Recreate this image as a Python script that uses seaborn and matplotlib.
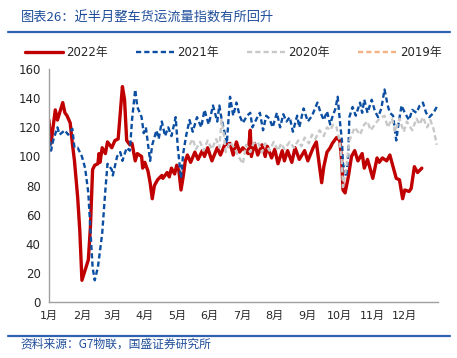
import matplotlib
matplotlib.use("Agg")
import matplotlib.pyplot as plt
import seaborn as sns
import pandas as pd
from matplotlib.lines import Line2D

sns.set_style("white")
plt.rcParams['font.family'] = ['DejaVu Sans', 'Noto Sans CJK SC']
plt.rcParams['axes.unicode_minus'] = False

title = "图表26：近半月整车货运流量指数有所回升"
source = "资料来源：G7物联，国盛证券研究所"
month_labels = ["1月", "2月", "3月", "4月", "5月", "6月", "7月", "8月", "9月", "10月", "11月", "12月"]
month_days = [0, 31, 59, 90, 120, 151, 181, 212, 243, 273, 304, 334]
y_ticks = [0, 20, 40, 60, 80, 100, 120, 140, 160]

days_2022 = [0, 2, 6, 8, 13, 15, 17, 20, 22, 24, 27, 29, 31, 34, 37, 39, 41, 43, 46, 47, 48, 50, 53, 55,
             59, 62, 65, 67, 69, 71, 73, 76, 78, 81, 83, 87, 88, 90, 93, 95, 97, 99, 102, 106, 107, 111,
             113, 115, 118, 120, 122, 124, 126, 128, 130, 133, 137, 140, 144, 146, 149, 153, 158, 161,
             165, 170, 173, 176, 179, 182, 187, 189, 190, 193, 196, 200, 203, 205, 209, 212, 215, 219,
             221, 224, 228, 231, 235, 240, 243, 248, 251, 254, 256, 258, 261, 264, 266, 270, 273, 275,
             276, 278, 281, 284, 287, 290, 294, 296, 299, 301, 304, 308, 310, 313, 317, 320, 323, 326,
             329, 332, 334, 338, 340, 343, 346, 350]
vals_2022 = [125, 109, 132, 125, 137, 130, 128, 123, 109, 97, 72, 49, 15, 22, 29, 52, 91, 94, 95, 102, 96,
             106, 102, 110, 106, 111, 112, 130, 148, 139, 111, 108, 109, 97, 102, 100, 92, 96, 90, 82, 71,
             80, 84, 87, 85, 89, 86, 92, 88, 94, 90, 77, 86, 97, 101, 96, 103, 98, 104, 100, 106, 97, 106,
             101, 108, 109, 101, 110, 103, 106, 102, 118, 100, 109, 101, 108, 100, 107, 99, 105, 95, 104,
             97, 104, 96, 106, 98, 104, 97, 106, 110, 93, 82, 93, 103, 106, 109, 113, 111, 95, 77, 75, 86,
             100, 104, 97, 102, 92, 98, 93, 85, 99, 96, 99, 97, 101, 93, 85, 84, 71, 77, 76, 78, 93, 89, 92]

days_2021 = [0, 2, 4, 8, 10, 15, 18, 22, 24, 27, 31, 34, 37, 39, 41, 43, 46, 50, 53, 55, 59, 60, 64, 67,
             69, 73, 76, 78, 81, 83, 87, 89, 91, 95, 97, 101, 103, 106, 109, 112, 115, 119, 121, 124, 126,
             129, 132, 135, 139, 143, 146, 150, 154, 158, 160, 162, 165, 167, 170, 173, 176, 179, 182, 186,
             189, 191, 195, 198, 201, 204, 207, 210, 214, 217, 220, 223, 226, 229, 233, 235, 239, 243, 247,
             252, 255, 258, 261, 264, 266, 269, 271, 273, 275, 276, 279, 281, 282, 285, 288, 292, 294, 296,
             299, 303, 306, 309, 312, 315, 318, 320, 323, 326, 328, 331, 334, 338, 341, 345, 348, 351, 354,
             357, 361, 364]
vals_2021 = [116, 104, 111, 120, 115, 118, 115, 119, 106, 106, 100, 92, 75, 49, 24, 15, 24, 47, 77, 95,
             91, 87, 100, 103, 97, 106, 104, 125, 146, 134, 127, 116, 120, 97, 108, 118, 112, 124, 114,
             120, 114, 127, 106, 85, 102, 115, 125, 117, 127, 120, 132, 122, 135, 124, 135, 126, 116, 109,
             141, 128, 137, 128, 123, 128, 130, 120, 126, 130, 118, 128, 126, 120, 130, 120, 129, 124, 127,
             117, 128, 120, 133, 124, 128, 137, 130, 125, 131, 122, 127, 133, 141, 125, 111, 95, 86, 102,
             127, 134, 128, 137, 130, 139, 130, 139, 131, 127, 133, 146, 135, 130, 128, 111, 122, 135, 130,
             125, 132, 130, 135, 137, 130, 127, 130, 134]

days_2020 = [132, 135, 138, 142, 145, 149, 153, 157, 160, 162, 164, 166, 170, 174, 178, 182, 185, 189,
             192, 196, 200, 203, 207, 211, 215, 218, 221, 226, 230, 234, 237, 240, 244, 247, 250, 254,
             258, 261, 264, 267, 270, 273, 275, 276, 279, 282, 287, 292, 296, 299, 302, 306, 310, 315,
             318, 322, 325, 329, 333, 336, 341, 345, 348, 351, 355, 358, 361, 364]
vals_2020 = [108, 112, 105, 110, 104, 111, 105, 112, 106, 125, 116, 103, 110, 106, 100, 95, 108, 103,
             109, 110, 103, 109, 104, 110, 104, 109, 105, 110, 106, 111, 107, 113, 109, 115, 112, 118,
             114, 120, 118, 122, 120, 110, 95, 79, 92, 111, 120, 115, 122, 124, 118, 122, 126, 128, 120,
             126, 117, 126, 117, 124, 118, 126, 122, 127, 120, 125, 119, 108]

days_2019 = []
vals_2019 = []

fig = plt.figure(figsize=(4.57, 3.58), dpi=100)
ax = fig.add_axes([0.107, 0.156, 0.851, 0.651])

red = "#C00000"
blue = "#0B4EA2"
gray = "#C8C8C8"
orange = "#F4B183"

sns.lineplot(x=days_2022, y=vals_2022, ax=ax, color=red, linewidth=2.4, label="2022年")
sns.lineplot(x=days_2021, y=vals_2021, ax=ax, color=blue, linewidth=1.7, linestyle=(0, (2.2, 1.3)),
             label="2021年")
sns.lineplot(x=days_2020, y=vals_2020, ax=ax, color=gray, linewidth=1.7, linestyle=(0, (2.2, 1.3)),
             label="2020年")
ax.plot(days_2019, vals_2019, color=orange, linewidth=1.7, linestyle=(0, (2.2, 1.3)), label="2019年")

ax.set_xlim(0, 365)
ax.set_ylim(0, 160)
ax.set_xticks(month_days)
ax.set_xticklabels(month_labels, fontsize=8)
ax.set_yticks(y_ticks)
ax.set_yticklabels([str(v) for v in y_ticks], fontsize=8.5)
ax.tick_params(axis='x', length=0, pad=6)
ax.tick_params(axis='y', length=3, color="#A0A0A0", direction='out', pad=3)
for s in ["top", "right"]:
    ax.spines[s].set_visible(False)
for s in ["left", "bottom"]:
    ax.spines[s].set_color("#A0A0A0")
    ax.spines[s].set_linewidth(1.0)
ax.set_xlabel("")
ax.set_ylabel("")

handles, labels = ax.get_legend_handles_labels()
ax.legend_.remove() if ax.legend_ else None
fig.legend(handles, labels, loc="center", bbox_to_anchor=(0.51, 0.852), ncol=4, frameon=False,
           fontsize=8.5, handlelength=3.2, columnspacing=2.4, handletextpad=0.3)

title_color = "#1F4E9A"
fig.text(0.045, 0.95, title, fontsize=9.5, color=title_color, ha="left", va="center",
         family=['Noto Sans CJK SC', 'DejaVu Sans'], style='italic')
fig.add_artist(Line2D([0.018, 0.985], [0.91, 0.91], color="#2E62B0", linewidth=1.6))
fig.add_artist(Line2D([0.018, 0.985], [0.062, 0.062], color="#2E62B0", linewidth=1.6))
fig.text(0.045, 0.04, source, fontsize=8.5, color=title_color, ha="left", va="center",
         family=['Noto Sans CJK SC', 'DejaVu Sans'], style='italic')

fig.savefig("out.png", dpi=100)
